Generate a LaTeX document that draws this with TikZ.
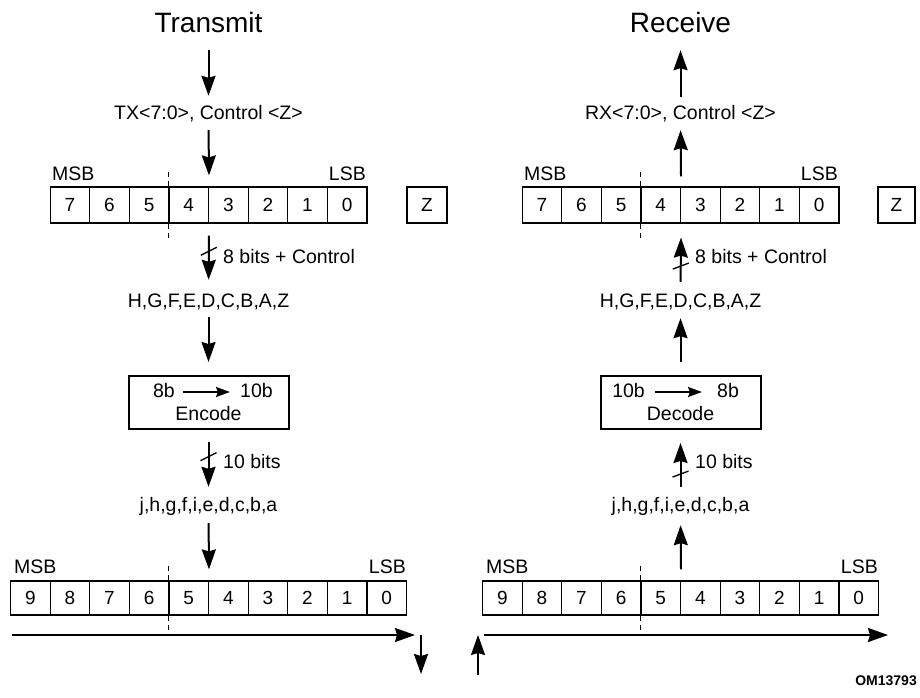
\documentclass[tikz,border=0pt]{standalone}
\usepackage{fontspec}
\setmainfont{Liberation Sans}
\usetikzlibrary{arrows.meta}
\begin{document}
\begin{tikzpicture}[x=1pt,y=-1pt,
  lbl/.style={font=\fontsize{19.5}{22}\selectfont, inner sep=0pt, text height=14pt, text depth=4pt, anchor=base},
  ttl/.style={font=\fontsize{28}{32}\selectfont, inner sep=0pt, text height=21pt, text depth=0pt, anchor=base},
  cellA/.style={draw, line width=1.2pt, inner sep=0pt, minimum width=39.6pt, minimum height=36pt, font=\fontsize{19}{22}\selectfont},
  cellB/.style={draw, line width=1.2pt, inner sep=0pt, minimum width=39.6pt, minimum height=34pt, font=\fontsize{19}{22}\selectfont},
  codebox/.style={draw, line width=2pt, inner sep=0pt, minimum width=160pt, minimum height=53pt},
  arr/.style={line width=2pt, -{Stealth[length=20pt,width=14pt,inset=2pt]}},
  smallarr/.style={line width=2pt, -{Stealth[length=14pt,width=10pt,inset=2pt]}},
  slash/.style={line width=1.3pt},
  dmark/.style={line width=1pt, dash pattern=on 5pt off 4pt}]
\useasboundingbox (0,0) rectangle (920,698);

% ================= TRANSMIT =================
\node[ttl] (Ltitle) at (208.5,33) {Transmit};
\node[lbl] (Ltx) at (208.5,120) {TX<7:0>, Control <Z>};
\foreach \d [count=\i from 0] in {7,6,5,4,3,2,1,0}
  \node[cellA] (L8c\d) at ({50.1+19.8+39.6*\i},205) {\d};
\node[cellA, minimum width=40pt] (LZ) at (427,205) {Z};
\node[lbl, anchor=base west] (LmsbA) at (52,180) {MSB};
\node[lbl, anchor=base east] (LlsbA) at (366,180) {LSB};
\draw[dmark] (L8c4.north west) -- ++(0,-15);
\draw[dmark] (L8c4.south west) -- ++(0,14);
\node[lbl, anchor=base west] (Lbits8) at (223,263) {8 bits + Control};
\node[lbl] (Lhg) at (208.5,307) {H,G,F,E,D,C,B,A,Z};
\node[codebox] (enc) at (208.5,402.5) {};
\node[lbl, anchor=base east] (Le8b) at (175,397) {8b};
\node[lbl, anchor=base west] (Le10b) at (240,397) {10b};
\node[lbl] (Lenc) at (208.5,420) {Encode};
\node[lbl, anchor=base west] (Lbits10) at (223,468) {10 bits};
\node[lbl] (Ljh) at (208.5,511) {j,h,g,f,i,e,d,c,b,a};
\foreach \d [count=\i from 0] in {9,8,7,6,5,4,3,2,1,0}
  \node[cellB] (L10c\d) at ({10.5+19.8+39.6*\i},598) {\d};
\node[lbl, anchor=base west] (LmsbB) at (14,573) {MSB};
\node[lbl, anchor=base east] (LlsbB) at (406,573) {LSB};
\draw[dmark] (L10c5.north west) -- ++(0,-15);
\draw[dmark] (L10c5.south west) -- ++(0,14);
\coordinate (Lls) at (12,635);
\coordinate (Lle) at (415,635);
\coordinate (Lo1) at (421,635);
\coordinate (Lo2) at (421,674);

\draw[arr, shorten <=17pt, shorten >=10pt] (Ltitle) -- (Ltx);
\draw[arr, shorten <=6pt, shorten >=11pt] (Ltx.south) -- (L8c4.north east);
\draw[arr, shorten <=12pt, shorten >=13pt] (L8c4.south east) -- coordinate[pos=0.4] (Ls1) (Lhg.north);
\draw[slash] (Ls1) ++(-8,4) -- ++(16,-8);
\draw[arr, shorten <=6pt, shorten >=13pt] (Lhg.south) -- (enc.north);
\draw[smallarr, shorten <=8pt, shorten >=10pt] (Le8b) -- (Le10b);
\draw[arr, shorten <=12pt, shorten >=10pt] (enc.south) -- coordinate[pos=0.4] (Ls2) (Ljh.north);
\draw[slash] (Ls2) ++(-8,4) -- ++(16,-8);
\draw[arr, shorten <=8pt, shorten >=11pt] (Ljh.south) -- (L10c5.north east);
\draw[arr] (Lls) -- (Lle);
\draw[arr] (Lo1) -- (Lo2);

% ================= RECEIVE =================
\node[ttl] (Rtitle) at (680.5,33) {Receive};
\node[lbl] (Rrx) at (680.5,120) {RX<7:0>, Control <Z>};
\foreach \d [count=\i from 0] in {7,6,5,4,3,2,1,0}
  \node[cellA] (R8c\d) at ({522.1+19.8+39.6*\i},205) {\d};
\node[cellA, minimum width=37pt] (RZ) at (896.5,205) {Z};
\node[lbl, anchor=base west] (RmsbA) at (524,180) {MSB};
\node[lbl, anchor=base east] (RlsbA) at (838,180) {LSB};
\draw[dmark] (R8c4.north west) -- ++(0,-15);
\draw[dmark] (R8c4.south west) -- ++(0,14);
\node[lbl, anchor=base west] (Rbits8) at (695,263) {8 bits + Control};
\node[lbl] (Rhg) at (680.5,307) {H,G,F,E,D,C,B,A,Z};
\node[codebox] (dec) at (680.5,402.5) {};
\node[lbl, anchor=base east] (Rd10b) at (645,397) {10b};
\node[lbl, anchor=base west] (Rd8b) at (717,397) {8b};
\node[lbl] (Rdec) at (680.5,420) {Decode};
\node[lbl, anchor=base west] (Rbits10) at (695,468) {10 bits};
\node[lbl] (Rjh) at (680.5,511) {j,h,g,f,i,e,d,c,b,a};
\foreach \d [count=\i from 0] in {9,8,7,6,5,4,3,2,1,0}
  \node[cellB] (R10c\d) at ({482.5+19.8+39.6*\i},598) {\d};
\node[lbl, anchor=base west] (RmsbB) at (486,573) {MSB};
\node[lbl, anchor=base east] (RlsbB) at (878,573) {LSB};
\draw[dmark] (R10c5.north west) -- ++(0,-15);
\draw[dmark] (R10c5.south west) -- ++(0,14);
\coordinate (Rls) at (484,635);
\coordinate (Rle) at (888,635);
\coordinate (Ri1) at (478,675);
\coordinate (Ri2) at (478,635);

\draw[arr, shorten <=9pt, shorten >=17pt] (Rrx) -- (Rtitle);
\draw[arr, shorten <=10pt, shorten >=6pt] (R8c4.north east) -- (Rrx.south);
\draw[arr, shorten <=11pt, shorten >=14pt] (Rhg.north) -- coordinate[pos=0.386] (Rs1) (R8c4.south east);
\draw[slash] (Rs1) ++(-8,3) -- ++(16,-6);
\draw[arr, shorten <=13pt, shorten >=7pt] (dec.north) -- (Rhg.south);
\draw[smallarr, shorten <=10pt, shorten >=15pt] (Rd10b) -- (Rd8b);
\draw[arr, shorten <=10pt, shorten >=13pt] (Rjh.north) -- coordinate[pos=0.34] (Rs2) (dec.south);
\draw[slash] (Rs2) ++(-8,3) -- ++(16,-6);
\draw[arr, shorten <=11pt, shorten >=10pt] (R10c5.north east) -- (Rjh.south);
\draw[arr] (Rls) -- (Rle);
\draw[arr] (Ri1) -- (Ri2);

\node[font=\bfseries\fontsize{14}{16}\selectfont, inner sep=0pt, anchor=base east] (om) at (917,685) {OM13793};
\end{tikzpicture}
\end{document}
